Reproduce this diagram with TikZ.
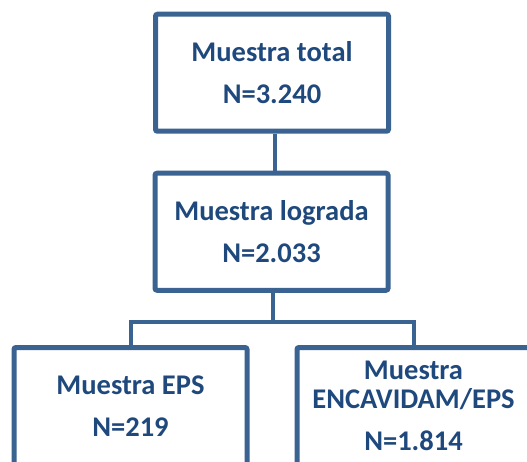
\documentclass[tikz,border=0pt]{standalone}
\usepackage{fontspec}
\setmainfont{Carlito}
\definecolor{boxline}{RGB}{58,99,146}
\definecolor{boxtext}{RGB}{31,73,125}
\tikzset{
  stepbox/.style={draw=boxline, line width=5pt, rounded corners=2pt, fill=white,
    text=boxtext, font=\fontsize{28.5}{29}\selectfont\bfseries, align=center,
    inner sep=0pt, minimum width=233pt, minimum height=117pt},
  link/.style={draw=boxline, line width=4pt}
}
\begin{document}
\begin{tikzpicture}[x=1pt,y=-1pt]
\clip (0,0) rectangle (527,462);
\fill[white] (0,0) rectangle (527,462);
\node[stepbox] (total) at (272,72.75) {Muestra total\\[13.5pt]N=3.240};
\node[stepbox] (lograda) at (271.5,231.75) {Muestra lograda\\[13.5pt]N=2.033};
\node[stepbox] (eps) at (130.5,406) {Muestra EPS\\[13.5pt]N=219};
\node[stepbox] (encav) at (413.5,406) {Muestra\\ENCAVIDAM/EPS\\[13pt]N=1.814};
\coordinate (split) at (273,322);
\draw[link] (total.south -| 274.5,0) -- (lograda.north -| 274.5,0);
\draw[link] (lograda.south -| split) -- (split);
\draw[link] (split) -| (eps.north);
\draw[link] (split) -| (encav.north);
\end{tikzpicture}
\end{document}
